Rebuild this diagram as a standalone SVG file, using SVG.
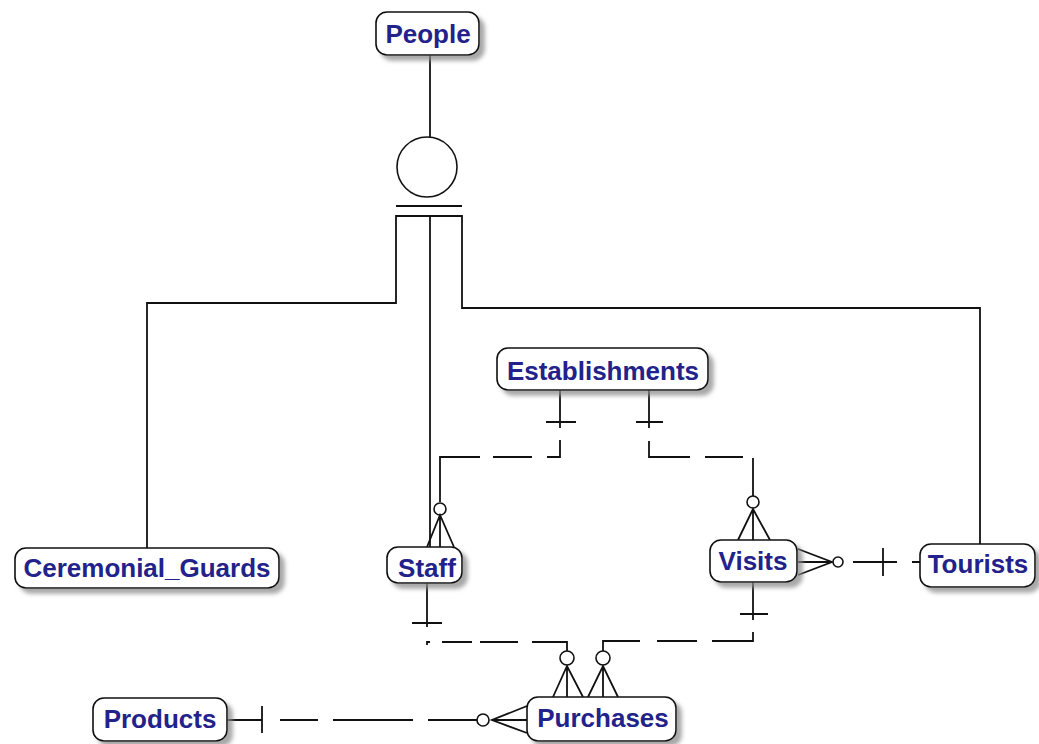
<svg xmlns="http://www.w3.org/2000/svg" width="1039" height="744" viewBox="0 0 1039 744">
<defs>
<filter id="sh" x="-10%" y="-20%" width="130%" height="160%">
<feDropShadow dx="5" dy="5" stdDeviation="2" flood-color="#8a8a8a" flood-opacity="0.75"/>
</filter>
<style>
.box{fill:#fff;stroke:#111;stroke-width:1.6;filter:url(#sh)}
.lbl{font-family:"Liberation Sans",Arial,sans-serif;font-weight:bold;font-size:26px;fill:#22228a;text-anchor:middle}
.ln{fill:none;stroke:#111;stroke-width:1.8}
.c{fill:#fff;stroke:#111;stroke-width:1.6}
</style>
</defs>
<rect width="1039" height="744" fill="#fff"/>
<g id="connectors" class="ln">
<!-- subtype -->
<path d="M430 55 V137"/>
<circle cx="427" cy="167" r="30" class="c"/>
<path d="M396 206 H462"/>
<path d="M147 548 V303 H396 V216 H462 V308 H980 V544"/>
<path d="M430 216 V547"/>
<!-- Establishments - Staff -->
<path d="M560 390 V428 M546 422 H576 M560 440 V457 H547 M532 457 H493 M480 457 H440 V502"/>
<circle cx="440" cy="509" r="6" class="c"/>
<path d="M427 547 L440 515 L454 547 M440 515 V547"/>
<!-- Establishments - Visits -->
<path d="M649 390 V428 M636 422 H663 M649 441 V457 H690 M705 457 H743 M753 458 V496"/>
<circle cx="753" cy="502" r="6" class="c"/>
<path d="M738 540 L753 509 L770 540 M753 509 V540"/>
<!-- Tourists - Visits -->
<path d="M798 549 L832 562 L798 575 M798 562 H832"/>
<circle cx="838" cy="562" r="5" class="c"/>
<path d="M853 562 H897 M883 548 V576 M912 562 H920"/>
<!-- Staff - Purchases -->
<path d="M427 583 V627 M412 623 H442 M427 645 V642 H430 M442 642 H472 M480 642 H518 M532 642 H567 V651"/>
<circle cx="567" cy="658" r="7" class="c"/>
<path d="M553 697 L567 666 L583 697 M567 666 V697"/>
<!-- Visits - Purchases -->
<path d="M753 582 V620 M740 614 H768 M753 632 V641 H712 M697 641 H657 M640 641 H603 V651"/>
<circle cx="603" cy="658" r="7" class="c"/>
<path d="M588 697 L603 666 L618 697 M603 666 V697"/>
<!-- Products - Purchases -->
<path d="M227 720 H262 M262 706 V733 M280 720 H318 M333 720 H413 M428 720 H477"/>
<circle cx="483" cy="720" r="6" class="c"/>
<path d="M527 706 L492 720 L527 733 M492 720 H527"/>
</g>
<g id="People"><rect class="box" x="376" y="12" width="103" height="43" rx="11"/><text class="lbl" x="428" y="43">People</text></g>
<g id="Establishments"><rect class="box" x="497" y="348" width="211" height="42" rx="11"/><text class="lbl" x="603" y="380">Establishments</text></g>
<g id="Ceremonial_Guards"><rect class="box" x="15" y="548" width="264" height="40" rx="11"/><text class="lbl" x="147" y="577">Ceremonial_Guards</text></g>
<g id="Staff"><rect class="box" x="387" y="547" width="75" height="36" rx="11"/><text class="lbl" x="427" y="577">Staff</text></g>
<g id="Visits"><rect class="box" x="710" y="540" width="87" height="42" rx="11"/><text class="lbl" x="753" y="570">Visits</text></g>
<g id="Tourists"><rect class="box" x="920" y="544" width="115" height="43" rx="11"/><text class="lbl" x="978" y="573">Tourists</text></g>
<g id="Purchases"><rect class="box" x="527" y="697" width="149" height="44" rx="11"/><text class="lbl" x="603" y="727">Purchases</text></g>
<g id="Products"><rect class="box" x="93" y="698" width="134" height="43" rx="11"/><text class="lbl" x="160" y="728">Products</text></g>
</svg>
